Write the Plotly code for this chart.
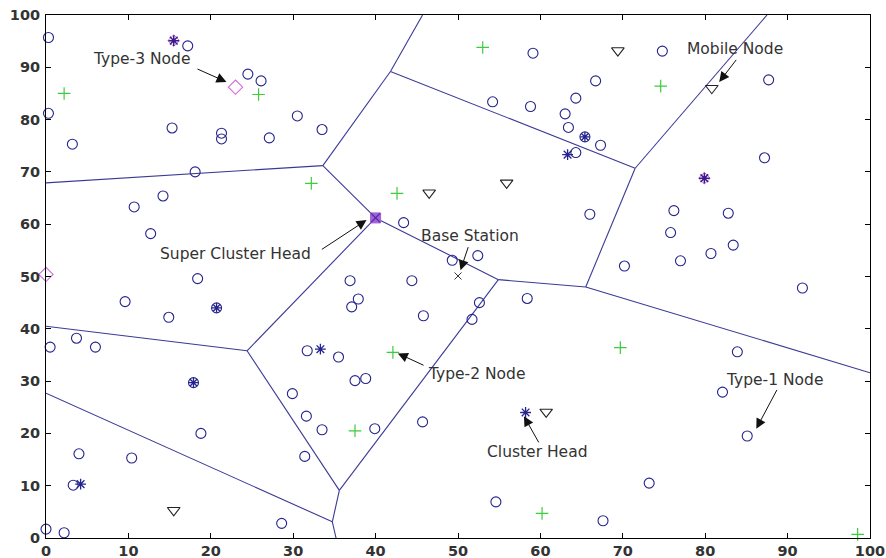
import plotly.graph_objects as go

# ---- data ----
node_x = [0.3, 17.2, 24.5, 26.1, 0.3, 3.2, 15.3, 21.3, 21.3, 27.1, 30.5, 33.5, 18.1, 14.2,
          54.2, 58.8, 59.1, 64.3, 63.0, 63.4, 64.3, 66.7, 67.3, 74.8, 87.7, 87.2,
          10.7, 12.7, 18.4, 9.6, 14.9, 3.7, 0.5, 6.0,
          43.4, 49.3, 52.4, 36.9, 44.4, 37.9, 37.1, 45.8, 58.4, 52.6, 51.7, 31.7, 35.5, 37.5, 38.8,
          66.0, 76.2, 82.8, 75.8, 83.4, 80.7, 77.0, 70.2, 91.8, 83.9,
          29.9, 18.8, 4.0, 10.4, 3.3, 0.0, 2.2, 28.6, 31.6, 33.5, 39.9, 31.4, 45.7, 54.6, 82.1, 85.1, 73.2, 67.6]
node_y = [95.7, 94.1, 88.7, 87.4, 81.2, 75.3, 78.4, 77.4, 76.3, 76.5, 80.7, 78.1, 70.0, 65.4,
          83.4, 82.5, 92.7, 84.1, 81.1, 78.5, 73.7, 87.4, 75.1, 93.1, 87.6, 72.7,
          63.3, 58.2, 49.6, 45.2, 42.2, 38.2, 36.5, 36.5,
          60.3, 53.1, 54.0, 49.2, 49.2, 45.7, 44.2, 42.5, 45.8, 45.0, 41.8, 35.8, 34.6, 30.1, 30.5,
          61.9, 62.6, 62.1, 58.4, 56.0, 54.4, 53.0, 52.0, 47.8, 35.6,
          27.6, 20.0, 16.1, 15.3, 10.1, 1.7, 1.0, 2.8, 23.3, 20.7, 20.9, 15.6, 22.2, 6.9, 27.9, 19.5, 10.5, 3.3]

ch_node_x = [65.4, 20.7, 17.9]          # cluster heads that are type-1 nodes
ch_node_y = [76.7, 44.0, 29.7]
ch_x = [63.3, 33.3, 58.2, 4.2]          # plain cluster heads
ch_y = [73.3, 36.1, 24.0, 10.3]
ch_t3_x = [15.5, 79.9]                  # cluster heads on type-3 nodes
ch_t3_y = [95.1, 68.8]

t2_x = [2.2, 25.8, 32.2, 42.6, 53.0, 74.6, 42.1, 37.5, 69.7, 60.2, 98.5]
t2_y = [85.0, 84.8, 67.8, 65.9, 93.8, 86.4, 35.5, 20.5, 36.4, 4.7, 0.7]

mob_x = [69.4, 80.8, 46.5, 55.9, 15.5, 60.7]
mob_y = [93.2, 86.0, 66.0, 67.9, 5.3, 24.1]

t3_x = [23.0, 0.0]
t3_y = [86.2, 50.4]

sch_x = [40.0]
sch_y = [61.2]
bs_x = [50.0]
bs_y = [50.1]

# Voronoi edges (start x, start y, end x, end y)
edge_x0 = [0.0, 33.6, 41.8, 41.8, 71.5, 71.5, 33.6, 40.0, 54.9, 65.5, 40.0, 0.0, 24.4, 35.6, 0.0, 34.75, 34.75]
edge_y0 = [67.9, 71.2, 89.2, 89.2, 70.7, 70.7, 71.2, 61.2, 49.4, 48.0, 61.2, 40.5, 35.8, 9.1, 27.7, 3.1, 3.1]
edge_x1 = [33.6, 41.8, 45.7, 71.5, 87.5, 65.5, 40.0, 54.9, 65.5, 100.0, 24.4, 24.4, 35.6, 54.9, 34.75, 35.2, 35.6]
edge_y1 = [71.2, 89.2, 100.0, 70.7, 100.0, 48.0, 61.2, 49.4, 48.0, 31.6, 35.8, 35.8, 9.1, 49.4, 3.1, 0.0, 9.1]

# annotations: label, text position, arrow tail, arrow head
labels = ["Type-3 Node", "Mobile Node", "Super Cluster Head", "Base Station",
          "Type-2 Node", "Cluster Head", "Type-1 Node"]
label_x = [11.6, 83.6, 23.0, 51.5, 52.3, 59.6, 88.4]
label_y = [91.5, 93.5, 54.3, 57.8, 31.3, 16.5, 30.3]
tail_x = [18.2, 83.9, 33.3, 51.3, 46.0, 59.9, 88.8]
tail_y = [89.8, 91.7, 55.0, 55.9, 32.9, 18.0, 28.6]
head_x = [21.9, 81.7, 38.9, 50.3, 42.7, 58.0, 86.2]
head_y = [87.2, 87.2, 60.8, 51.2, 35.3, 23.3, 20.9]

ticks = [0, 10, 20, 30, 40, 50, 60, 70, 80, 90, 100]

# ---- figure ----
BLUE = "#24248c"
LINE = "#3a3a96"
GREEN = "#3dcc3d"
MAG = "#d46ad4"

fig = go.Figure()

ex, ey = [], []
for a, b, c, d in zip(edge_x0, edge_y0, edge_x1, edge_y1):
    ex += [a, c, None]
    ey += [b, d, None]
fig.add_trace(go.Scatter(x=ex, y=ey, mode="lines", line=dict(color=LINE, width=1.1),
                         hoverinfo="skip"))

def pts(x, y, symbol, color, size, width=1.0):
    fig.add_trace(go.Scatter(x=x, y=y, mode="markers", cliponaxis=False,
                             marker=dict(symbol=symbol, size=size, color=color,
                                         line=dict(color=color, width=width))))

pts(node_x, node_y, "circle-open", BLUE, 10, 1.1)
pts(ch_node_x, ch_node_y, "circle-open", BLUE, 10, 1.1)
pts(ch_node_x, ch_node_y, "asterisk-open", BLUE, 8, 1.3)
pts(ch_x, ch_y, "asterisk-open", BLUE, 9, 1.3)
pts(ch_t3_x, ch_t3_y, "diamond-open", MAG, 9, 1.0)
pts(ch_t3_x, ch_t3_y, "asterisk-open", "#3a1a8a", 9, 1.5)
pts(t2_x, t2_y, "cross-thin-open", GREEN, 9, 1.2)
pts(mob_x, mob_y, "triangle-down-open", "#222222", 11, 1.1)
pts(t3_x, t3_y, "diamond-open", MAG, 11, 1.1)
pts(sch_x, sch_y, "square", "#a060d8", 10, 1.0)
pts(sch_x, sch_y, "x-thin-open", "#4a2aa0", 9, 1.2)
pts(bs_x, bs_y, "x-thin-open", "#333333", 7, 1.0)

annotations = []
for t, lx, ly in zip(labels, label_x, label_y):
    annotations.append(dict(x=lx, y=ly, xref="x", yref="y", text=t, showarrow=False,
                            font=dict(family="DejaVu Sans", size=15.5, color="#333333")))
for tx, ty, hx, hy in zip(tail_x, tail_y, head_x, head_y):
    annotations.append(dict(x=hx, y=hy, ax=tx, ay=ty, xref="x", yref="y", axref="x", ayref="y",
                            text="", showarrow=True, arrowhead=2, arrowsize=2.0, arrowwidth=1,
                            arrowcolor="#111111", standoff=0, startstandoff=0))

axis_common = dict(range=[0, 100], tickvals=ticks, ticktext=[str(t) for t in ticks],
                   ticks="inside", ticklen=5, tickcolor="#000000", showline=True,
                   linecolor="#000000", linewidth=1, mirror="ticks", showgrid=False,
                   zeroline=False, automargin=False,
                   tickfont=dict(family="DejaVu Sans", size=14.5,
                                 color="#333333", weight="bold"))

fig.update_layout(
    width=886, height=558,
    margin=dict(l=46, r=16, t=15, b=20, autoexpand=False),
    paper_bgcolor="white", plot_bgcolor="white",
    showlegend=False,
    xaxis=axis_common, yaxis=dict(axis_common, ticklabelstandoff=2),
    annotations=annotations,
)

fig.write_html("out.html", config={"displayModeBar": False},
               post_script="document.body.style.margin='0';document.body.style.overflow='hidden';")
